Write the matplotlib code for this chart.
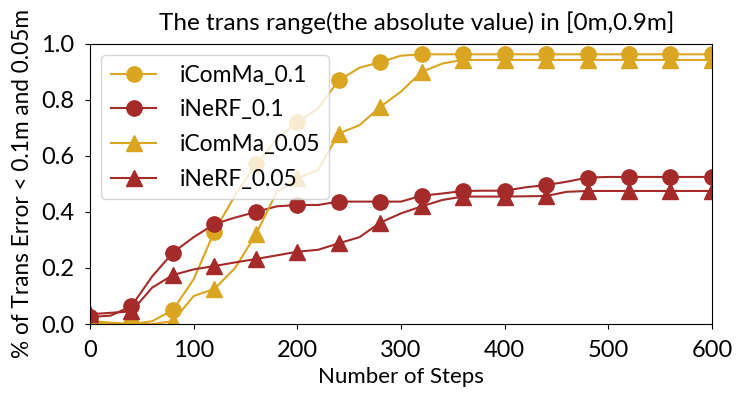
import numpy as np
import matplotlib
matplotlib.use("Agg")
import matplotlib.pyplot as plt

plt.rcParams['font.family'] = ['Lato', 'DejaVu Sans']

# values, one every 20 steps
steps = list(range(0, 601, 20))

icomma_01 = [0.01, 0.005, 0.0, 0.01, 0.05, 0.16, 0.33, 0.46, 0.57, 0.66,
             0.72, 0.77, 0.87, 0.915, 0.935, 0.958, 0.963, 0.963, 0.963, 0.963,
             0.963, 0.963, 0.963, 0.963, 0.963, 0.963, 0.963, 0.963, 0.963, 0.963,
             0.963]
inerf_01 = [0.025, 0.03, 0.064, 0.17, 0.255, 0.31, 0.357, 0.38, 0.40, 0.42,
            0.425, 0.425, 0.437, 0.437, 0.437, 0.437, 0.458, 0.466, 0.475, 0.476,
            0.476, 0.488, 0.496, 0.508, 0.523, 0.525, 0.525, 0.525, 0.525, 0.525,
            0.525]
icomma_005 = [0.0, 0.0, 0.0, 0.0, 0.01, 0.10, 0.125, 0.20, 0.32, 0.47,
              0.52, 0.55, 0.68, 0.71, 0.775, 0.83, 0.90, 0.93, 0.943, 0.943,
              0.943, 0.943, 0.943, 0.943, 0.943, 0.943, 0.943, 0.943, 0.943, 0.943,
              0.943]
inerf_005 = [0.035, 0.04, 0.045, 0.13, 0.175, 0.195, 0.207, 0.22, 0.232, 0.245,
             0.258, 0.265, 0.288, 0.31, 0.362, 0.395, 0.42, 0.443, 0.455, 0.455,
             0.455, 0.456, 0.457, 0.472, 0.475, 0.475, 0.475, 0.475, 0.475, 0.475,
             0.475]

gold = '#DAA520'
red = '#A52A2A'

fig = plt.figure(figsize=(7.47, 4.03), dpi=100)
ax = fig.add_axes([0.1205, 0.196, 0.8325, 0.695])

ms = 11
ax.plot(steps, icomma_01, color=gold, marker='o', markersize=ms, markevery=2, linewidth=1.5, label='iComMa_0.1')
ax.plot(steps, inerf_01, color=red, marker='o', markersize=ms, markevery=2, linewidth=1.5, label='iNeRF_0.1')
ax.plot(steps, icomma_005, color=gold, marker='^', markersize=ms, markevery=2, linewidth=1.5, label='iComMa_0.05')
ax.plot(steps, inerf_005, color=red, marker='^', markersize=ms, markevery=2, linewidth=1.5, label='iNeRF_0.05')

ax.set_xlim(0, 600)
ax.set_ylim(0, 1.0)
ax.set_xticks([0, 100, 200, 300, 400, 500, 600])
ax.set_yticks([0.0, 0.2, 0.4, 0.6, 0.8, 1.0])
ax.tick_params(labelsize=17, pad=8)
ax.set_title("The trans range(the absolute value) in [0m,0.9m]", fontsize=17.5, pad=10, x=0.525)
ax.set_xlabel("Number of Steps", fontsize=16)
ax.set_ylabel("% of Trans Error < 0.1m and 0.05m", fontsize=16.3, labelpad=6)
ax.legend(loc='upper left', fontsize=16.5, labelspacing=0.6, handletextpad=1.0)

plt.savefig("out.png", dpi=100)
